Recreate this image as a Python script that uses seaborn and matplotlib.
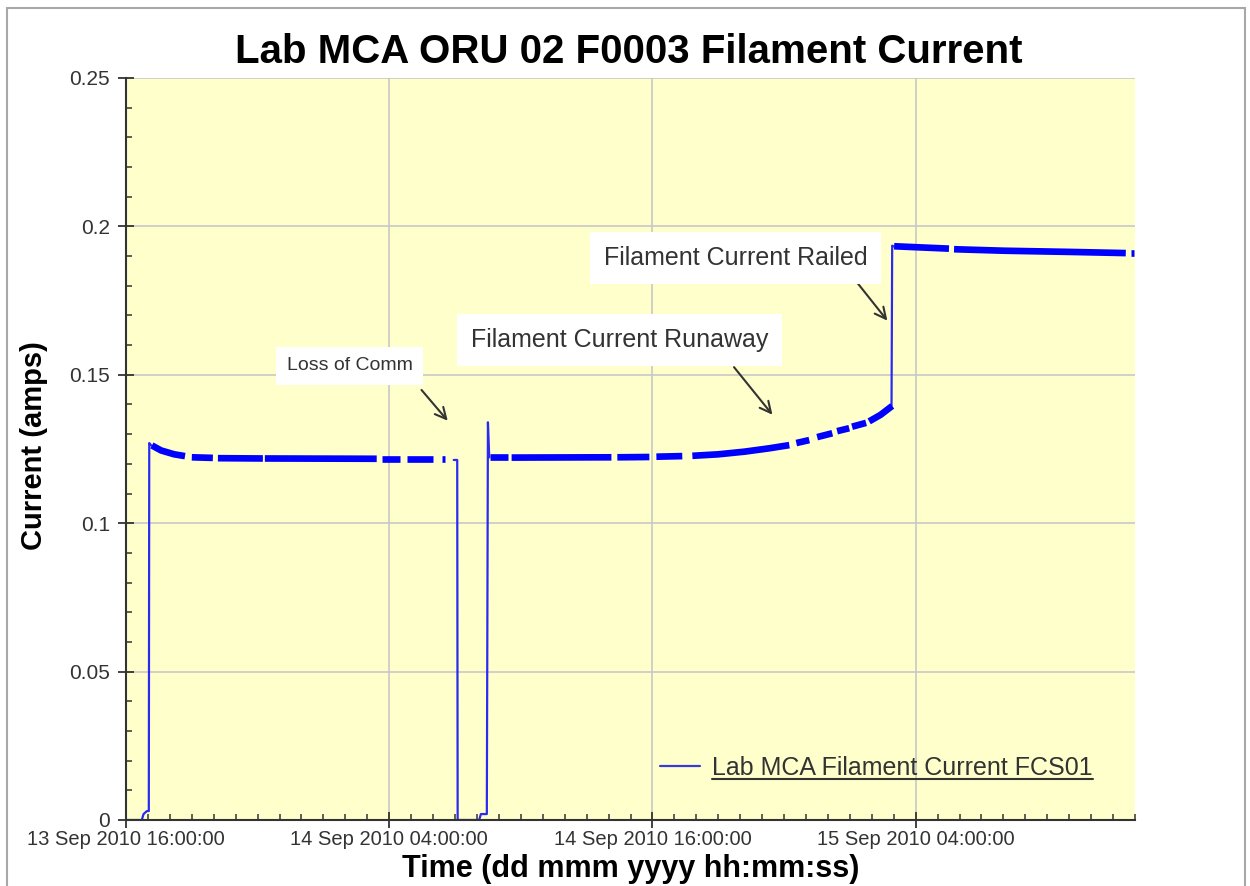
import numpy as np
import pandas as pd
import matplotlib
matplotlib.use("Agg")
from matplotlib import pyplot as plt
import matplotlib.dates as mdates
from matplotlib.lines import Line2D
from matplotlib.patches import Rectangle
from matplotlib.ticker import MultipleLocator, FuncFormatter
import seaborn as sns

# hours after 13 Sep 2010 16:00:00
start = pd.Timestamp("2010-09-13 16:00:00")

# thin trace: the jumps (power on, loss of comm, railed)
trace_hours = [0.0, 0.72, 0.80, 0.95, 1.04, 1.06, 1.15,
               14.94, 15.10, 15.12, 16.10, 16.18, 16.45, 16.50, 16.56,
               34.90, 34.93, 35.02]
trace_current = [0.0, 0.0, 0.002, 0.003, 0.003, 0.127, 0.1262,
                 0.1213, 0.1213, 0.0, 0.0, 0.002, 0.002, 0.134, 0.1222,
                 0.1395, 0.1935, 0.1932]
trace_seg = [0] * 7 + [1] * 8 + [2] * 3

# thick noisy band, broken where telemetry drops out
band_hours = [1.18, 1.6, 2.2, 2.69,
              3.0, 3.96,
              4.19, 6.24,
              6.33, 11.43,
              11.66, 12.48,
              12.8, 13.98,
              14.39, 14.53,
              16.58, 17.4,
              17.58, 22.13,
              22.4, 23.86,
              24.18, 25.36,
              25.82, 27.0, 28.2, 29.3, 30.24,
              30.56, 31.15,
              31.51, 32.2,
              32.42, 32.97,
              33.1, 33.74,
              33.88, 34.4, 34.93,
              35.02, 37.52,
              37.75, 40.0, 43.0, 45.58,
              45.8, 45.95]
band_current = [0.1262, 0.1245, 0.1232, 0.1226,
                0.1222, 0.1220,
                0.1219, 0.1218,
                0.1218, 0.1217,
                0.1216, 0.1216,
                0.1216, 0.1216,
                0.1216, 0.1216,
                0.1222, 0.1222,
                0.1221, 0.1222,
                0.1222, 0.1223,
                0.1224, 0.1226,
                0.1227, 0.1232, 0.1241, 0.1252, 0.1263,
                0.1270, 0.1280,
                0.1290, 0.1303,
                0.1310, 0.1320,
                0.1325, 0.1338,
                0.1343, 0.1365, 0.1395,
                0.1933, 0.1925,
                0.1923, 0.1918, 0.1914, 0.1910,
                0.1909, 0.1909]
band_seg = [0] * 4 + [1] * 2 + [2] * 2 + [3] * 2 + [4] * 2 + [5] * 2 + [6] * 2 + \
           [7] * 2 + [8] * 2 + [9] * 2 + [10] * 2 + [11] * 5 + [12] * 2 + [13] * 2 + \
           [14] * 2 + [15] * 2 + [16] * 3 + [17] * 2 + [18] * 4 + [19] * 2

y_ticks = [0, 0.05, 0.1, 0.15, 0.2, 0.25]

sns.set_style("white")
plt.rcParams["font.family"] = ["Liberation Sans", "DejaVu Sans"]

trace = pd.DataFrame({"time": start + pd.to_timedelta(trace_hours, unit="h"),
                      "current": trace_current, "seg": trace_seg})
band = pd.DataFrame({"time": start + pd.to_timedelta(band_hours, unit="h"),
                     "current": band_current, "seg": band_seg})

fig = plt.figure(figsize=(12.5, 8.86), dpi=100)
ax = fig.add_axes([0.1008, 0.0745, 0.8072, 0.8375])
ax.set_facecolor("#FFFFCC")

sns.lineplot(data=trace, x="time", y="current", units="seg", estimator=None,
             sort=False, color="#2B2BF0", lw=1.6, legend=False, ax=ax)
sns.lineplot(data=band, x="time", y="current", units="seg", estimator=None,
             sort=False, color="#0000FF", lw=4.8, legend=False, ax=ax,
             solid_capstyle="butt")


def t(h):
    return mdates.date2num(start + pd.Timedelta(hours=h))


ax.set_xlim(t(0), t(46))
ax.set_ylim(0, 0.25)
ax.set_yticks(y_ticks)
ax.yaxis.set_minor_locator(MultipleLocator(0.01))
ax.yaxis.set_major_formatter(FuncFormatter(lambda v, p: "%g" % round(v, 3)))
ax.xaxis.set_major_locator(mdates.HourLocator(byhour=[4, 16]))
ax.xaxis.set_minor_locator(mdates.HourLocator())
ax.xaxis.set_major_formatter(mdates.DateFormatter("%d %b %Y %H:%M:%S"))

ax.grid(True, which="major", color="#C8C8C8", lw=1.2)
ax.set_axisbelow(True)
for s in ["top", "right"]:
    ax.spines[s].set_visible(False)
for s in ["left", "bottom"]:
    ax.spines[s].set_color("#333333")
    ax.spines[s].set_linewidth(1.5)
ax.tick_params(which="major", direction="inout", length=11, width=1.3,
               color="#333333", labelcolor="#333333")
ax.tick_params(axis="x", which="major", labelsize=14.5, pad=2)
ax.tick_params(axis="y", which="major", labelsize=15, pad=6)
ax.tick_params(which="minor", direction="in", length=4, width=1.1, color="#333333")
ax.tick_params(axis="x", which="both", bottom=True)
ax.tick_params(axis="y", which="both", left=True)

ax.set_xlabel("Time (dd mmm yyyy hh:mm:ss)", fontsize=22, fontweight="bold", color="black")
ax.set_ylabel("Current (amps)", fontsize=21, fontweight="bold", color="black")
ax.xaxis.set_label_coords(0.5, -0.046)
ax.yaxis.set_label_coords(-0.077, 0.505)

fig.text(0.503, 0.941, "Lab MCA ORU 02 F0003 Filament Current", fontsize=29,
         fontweight="bold", ha="center", va="center", color="black")

box = dict(boxstyle="square,pad=0.55", fc="white", ec="none")
arrow = dict(arrowstyle="->,head_length=0.8,head_width=0.4", color="#333333", lw=1.5)

ax.text(t(10.2), 0.153, "Loss of Comm", fontsize=14, color="#333333",
        ha="center", va="center", bbox=box, zorder=5)
ax.annotate("", xy=(t(14.75), 0.1338), xytext=(t(13.39), 0.1456), arrowprops=arrow)

ax.text(t(22.5), 0.1617, "Filament Current Runaway", fontsize=18, color="#333333",
        ha="center", va="center", bbox=box, zorder=5)
ax.annotate("", xy=(t(29.55), 0.1358), xytext=(t(27.64), 0.1533), arrowprops=arrow)

ax.text(t(27.8), 0.1894, "Filament Current Railed", fontsize=18, color="#333333",
        ha="center", va="center", bbox=box, zorder=5)
ax.annotate("", xy=(t(34.79), 0.1675), xytext=(t(33.06), 0.1836), arrowprops=arrow)

handle = Line2D([], [], color="#3A3ADB", lw=1.6)
leg = ax.legend([handle], ["Lab MCA Filament Current FCS01"], loc="center left",
                bbox_to_anchor=(0.529, 0.07), frameon=False, fontsize=18,
                handlelength=1.6, handletextpad=0.5, borderpad=0, borderaxespad=0)
for txt in leg.get_texts():
    txt.set_color("#333333")

# figure border
fig.add_artist(Rectangle((0.0056, -0.05), 0.9904, 0.991 + 0.05, transform=fig.transFigure,
                         fill=False, ec="#A8A8A8", lw=1.5))

# underline legend text
fig.canvas.draw()
bb = leg.get_texts()[0].get_window_extent(fig.canvas.get_renderer())
inv = fig.transFigure.inverted()
(x0, y0), (x1, _) = inv.transform([(bb.x0, bb.y0 + 1), (bb.x1, bb.y0 + 1)])
fig.add_artist(Line2D([x0, x1], [y0, y0], transform=fig.transFigure,
                      color="#333333", lw=1.5))

fig.savefig("out.png", dpi=100)
